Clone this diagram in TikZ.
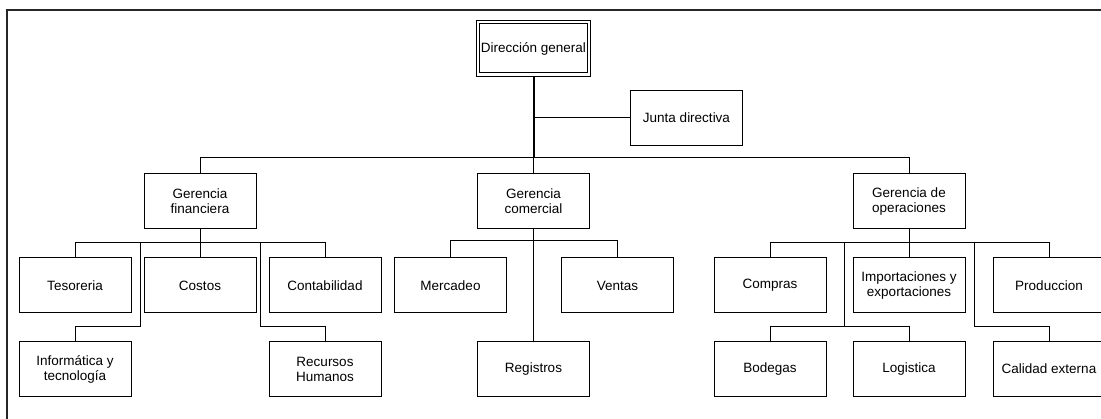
\documentclass[tikz,border=0pt]{standalone}
\usepackage{fontspec}
\setmainfont{Liberation Sans}
\begin{document}
\begin{tikzpicture}[x=1pt,y=-1pt,
  box/.style={draw=black,line width=1pt,fill=white,minimum width=112pt,minimum height=55pt,
              inner sep=1pt,align=center,font=\fontsize{13.5}{15}\selectfont},
  dirbox/.style={box,minimum width=105pt,minimum height=49pt},
  link/.style={draw=black,line width=1pt},
  trunk/.style={draw=black,line width=2pt}]
\useasboundingbox (0,0) rectangle (1101,419);
\clip (0,0) rectangle (1101,419);
% outer frame
\draw[line width=2pt,draw=black!85] (7,10) rectangle (1120,440);

% levels of the horizontal buses
\coordinate (jt) at (0,118);
\coordinate (b0) at (0,158);
\coordinate (bf) at (0,243);
\coordinate (bc) at (0,241);
\coordinate (bo) at (0,243);
\coordinate (el) at (0,327);
% branch points for the second rows
\coordinate (fL) at (140,243);
\coordinate (fR) at (260,243);
\coordinate (oL) at (844,243);
\coordinate (oR) at (974,243);

% nodes
\node[dirbox] (dir) at (533.5,48.5) {Dirección general};
\draw[link] ([shift={(-3,-3)}]dir.north west) coordinate (dirNW)
  rectangle ([shift={(3,3)}]dir.south east) coordinate (dirSE);
\coordinate (dirS) at (dir.south |- dirSE);
\node[box] (junta) at (686.5,118) {Junta directiva};

\node[box] (gf) at (200,201.5) {Gerencia\\financiera};
\node[box] (gc) at (533.5,201.5) {Gerencia\\comercial};
\node[box] (go) at (909,201.5) {Gerencia de\\operaciones};

\node[box] (tes) at (75,285.5) {Tesoreria};
\node[box] (cos) at (200,285.5) {Costos};
\node[box] (con) at (325,285.5) {Contabilidad};
\node[box] (inf) at (75,369) {Informática y\\tecnología};
\node[box] (rh) at (325,369) {Recursos\\Humanos};

\node[box] (mer) at (450.5,285.5) {Mercadeo};
\node[box] (ven) at (617.5,285.5) {Ventas};
\node[box] (reg) at (533.5,369) {Registros};

\node[box] (com) at (770,285.5) {Compras};
\node[box] (imp) at (909,285.5) {Importaciones y\\exportaciones};
\node[box] (pro) at (1049,285.5) {Produccion};
\node[box] (bod) at (770,369) {Bodegas};
\node[box] (log) at (909,369) {Logistica};
\node[box] (cal) at (1049,369) {Calidad externa};

% top level
\draw[trunk] (dirS) -- (dir.south |- b0);
\draw[link] (dir.south |- b0) -- (gc.north);
\draw[link] (dir.south |- jt) -- (junta.west);
\draw[link] (gf.north) -- (gf.north |- b0) -- (go.north |- b0) -- (go.north);

% finance
\draw[link] (gf.south) -- (cos.north);
\draw[link] (tes.north) -- (tes.north |- bf) -- (con.north |- bf) -- (con.north);
\draw[link] (fL) -- (fL |- el) -| (inf.north);
\draw[link] (fR) -- (fR |- el) -| (rh.north);

% commercial
\draw[link] (gc.south) -- (reg.north);
\draw[link] (mer.north) -- (mer.north |- bc) -- (ven.north |- bc) -- (ven.north);

% operations
\draw[link] (go.south) -- (imp.north);
\draw[link] (com.north) -- (com.north |- bo) -- (pro.north |- bo) -- (pro.north);
\draw[link] (oL) -- (oL |- el);
\draw[link] (bod.north) -- (bod.north |- el) -- (log.north |- el) -- (log.north);
\draw[link] (oR) -- (oR |- el) -| (cal.north);
\end{tikzpicture}
\end{document}
